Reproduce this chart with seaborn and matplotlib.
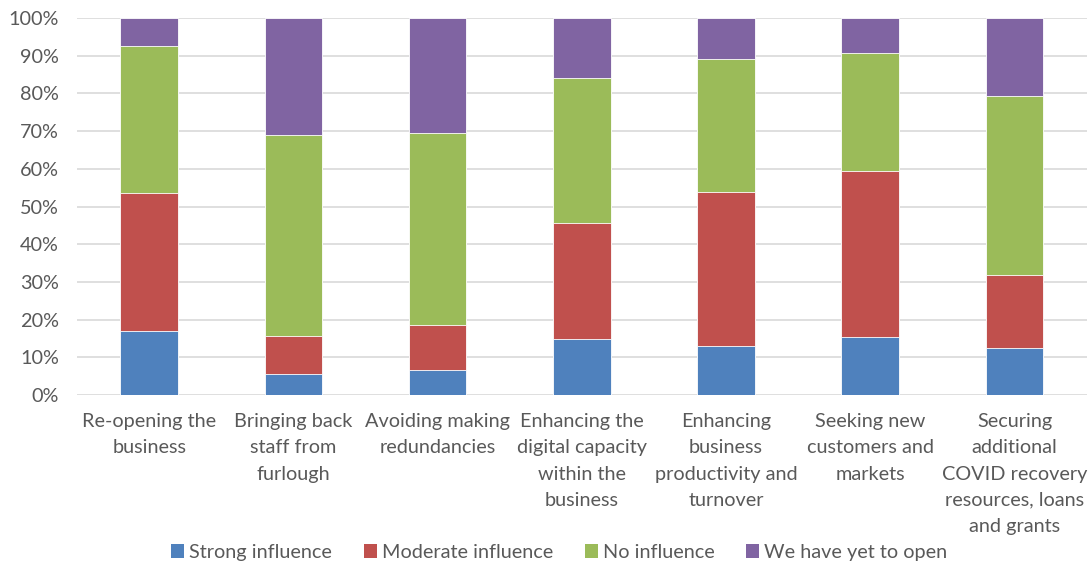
import numpy as np
import pandas as pd
import matplotlib
matplotlib.use("Agg")
import matplotlib.pyplot as plt
import seaborn as sns
from matplotlib.patches import Patch

categories = [
    "Re-opening the\nbusiness",
    "Bringing back\nstaff from\nfurlough",
    "Avoiding making\nredundancies",
    "Enhancing the\ndigital capacity\nwithin the\nbusiness",
    "Enhancing\nbusiness\nproductivity and\nturnover",
    "Seeking new\ncustomers and\nmarkets",
    "Securing\nadditional\nCOVID recovery\nresources, loans\nand grants",
]
series_names = ["Strong influence", "Moderate influence", "No influence", "We have yet to open"]
strong = [16.9, 5.7, 6.6, 15.0, 12.9, 15.3, 12.4]
moderate = [36.8, 9.9, 12.0, 30.7, 40.9, 44.2, 19.5]
none_ = [38.9, 53.4, 50.9, 38.3, 35.4, 31.3, 47.4]
yet_to_open = [7.4, 31.0, 30.5, 16.0, 10.8, 9.2, 20.7]
colors = ["#4F81BD", "#C0504D", "#9BBB59", "#8064A2"]

sns.set_theme(style="white")
plt.rcParams["font.family"] = ["Lato", "DejaVu Sans"]
text_color = "#595959"
fs = 14.3

fig = plt.figure(figsize=(10.88, 5.62), dpi=100)
ax = fig.add_axes([0.0708, 0.297, 0.928, 0.671])

values = np.array([strong, moderate, none_, yet_to_open])
cumulative = np.cumsum(values, axis=0)

# Draw cumulative totals from the top segment down so each layer sits on the next
for i in reversed(range(len(series_names))):
    df = pd.DataFrame({"category": categories, "value": cumulative[i]})
    sns.barplot(data=df, x="category", y="value", color=colors[i], width=0.40,
                saturation=1, ax=ax, linewidth=0.6, edgecolor="white", zorder=3)

ax.set_ylim(0, 100)
ax.set_xlim(-0.5, len(categories) - 0.5)
ax.set_yticks(np.arange(0, 101, 10))
ax.set_yticklabels([f"{v}%" for v in range(0, 101, 10)], fontsize=fs, color=text_color)
ax.set_xticks(range(len(categories)))
ax.set_xticklabels(categories, fontsize=fs, color=text_color, linespacing=1.66)
ax.tick_params(axis="x", length=0, pad=13)
ax.tick_params(axis="y", length=0, pad=13)
ax.set_xlabel("")
ax.set_ylabel("")
ax.grid(axis="y", color="#D9D9D9", linewidth=1.2, zorder=0)
for s in ax.spines.values():
    s.set_visible(False)

handles = [Patch(facecolor=c, edgecolor="none") for c in colors]
fig.legend(handles, series_names, loc="center", bbox_to_anchor=(0.514, 0.017), ncol=4,
           frameon=False, fontsize=fs, labelcolor=text_color, handlelength=0.65,
           handleheight=0.65, handletextpad=0.25, columnspacing=1.6)

fig.savefig("out.png", dpi=100)
